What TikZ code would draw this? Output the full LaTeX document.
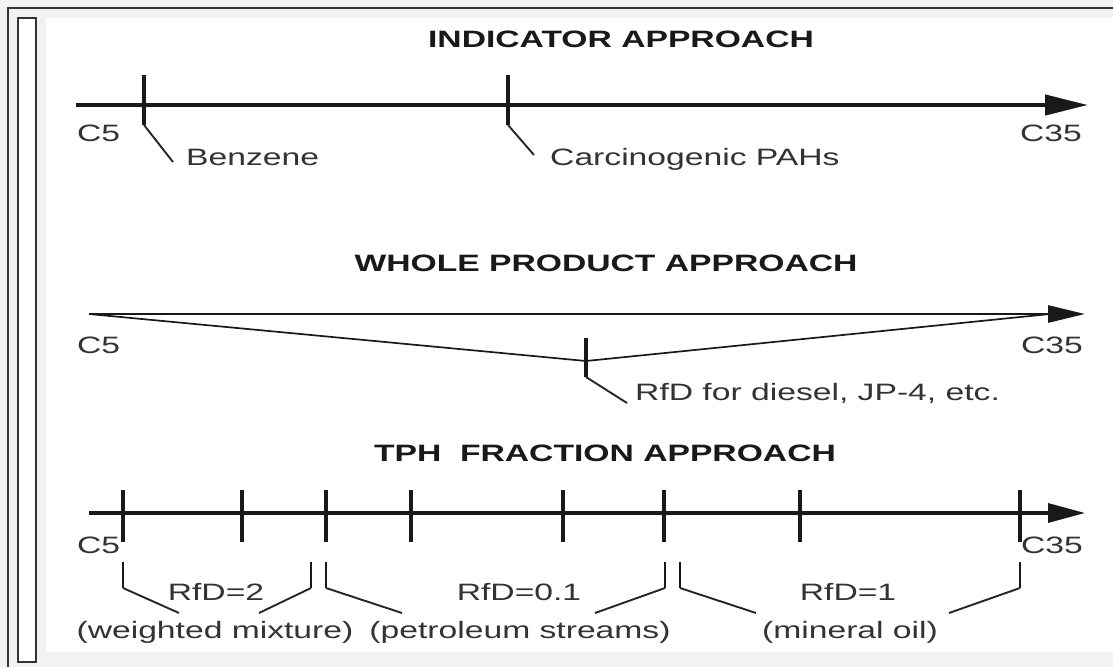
\documentclass[tikz,border=0pt]{standalone}
\usepackage{fontspec}
\setmainfont{Liberation Sans}[FakeStretch=1.42]
\usetikzlibrary{arrows.meta,positioning}

\begin{document}
\begin{tikzpicture}[x=1pt,y=-1pt,
  lbl/.style={inner sep=0pt,text=black!80,font=\fontsize{23.7}{28}\selectfont},
  ttl/.style={inner sep=0pt,text=black!90,font=\fontsize{23.7}{28}\selectfont\bfseries},
  axisline/.style={draw=black!90,line width=#1},
  tickline/.style={draw=black!90,line width=3.2pt},
  leadline/.style={draw=black!85,line width=1.9pt}]

% frame
\useasboundingbox (0,0) rectangle (1113,667);
\fill[black!5] (0,0) rectangle (1113,667);
\fill[white] (46,18) rectangle (1113,652);
\draw[black!80,line width=1.6pt,fill=white] (18,18) rectangle (36,662);
\draw[black!80,line width=1.6pt] (8,667) -- (8,8) -- (1113,8);

% indicator approach
\node[ttl,anchor=base] (indttl) at (621,47) {INDICATOR APPROACH};
\coordinate (ia) at (76,105);
\coordinate (ib) at (1088,105);
\draw[axisline=4.4pt,-{Triangle[length=43pt,width=20pt]}] (ia) -- (ib);
\node[lbl,anchor=base west] (ic5) at (77,141) {C5};
\node[lbl,anchor=base east] (ic35) at (1082,141) {C35};
\draw[tickline] (144,75) coordinate (bz) -- (144,125) coordinate (bz1);
\draw[leadline] (bz1) -- (173,162);
\node[lbl,anchor=base west] (benz) at (186,165) {Benzene};
\draw[tickline] (508,75) coordinate (pah) -- (508,125) coordinate (pah1);
\draw[leadline] (pah1) -- (534,155);
\node[lbl,anchor=base west] (pahs) at (550,165) {Carcinogenic PAHs};

% whole product approach
\node[ttl,anchor=base] (whttl) at (606,271) {WHOLE PRODUCT APPROACH};
\coordinate (wa) at (89,314);
\coordinate (wb) at (1085,314);
\coordinate (wm) at (586,361);
\draw[axisline=2.8pt,-{Triangle[length=37pt,width=17pt]}] (wa) -- (wb);
\draw[black!90,line width=1.7pt,line join=bevel] (wa) -- (wm) -- (1050,314);
\node[lbl,anchor=base west] (wc5) at (77,353) {C5};
\node[lbl,anchor=base east] (wc35) at (1083,353) {C35};
\draw[tickline] (586,338) coordinate (rfd) -- (586,377) coordinate (rfd1);
\draw[leadline] (rfd1) -- (627,403);
\node[lbl,anchor=base west] (diesel) at (635,400) {RfD for diesel, JP-4, etc.};

% tph fraction approach
\node[ttl,anchor=base] (tphttl) at (605,461) {TPH\ \ FRACTION APPROACH};
\coordinate (ta) at (89,513);
\coordinate (tb) at (1085,513);
\draw[axisline=3.2pt,-{Triangle[length=37pt,width=19pt]}] (ta) -- (tb);
\foreach \x [count=\i] in {123,242,326,411,563,664,800,1020}
  \draw[tickline] (\x,490) coordinate (t\i) -- (\x,542);
\foreach \x/\d [count=\i] in {123/56,311/-52,326/76,665/-70,680/76,1020/-71}{
  \draw[tickline,line width=2.8pt] (\x,562) coordinate (b\i) -- (\x,588) coordinate (c\i);
  \draw[leadline] (c\i) -- ++(\d,25);
}
\node[lbl,anchor=base west] (tc5) at (77,553) {C5};
\node[lbl,anchor=base east] (tc35) at (1083,553) {C35};
\node[lbl,anchor=base] (rfda) at (216,600) {RfD=2};
\node[lbl,anchor=base] (rfdb) at (519,600) {RfD=0.1};
\node[lbl,anchor=base] (rfdc) at (848,600) {RfD=1};
\node[lbl,anchor=base] (mixa) at (215,638) {(weighted mixture)};
\node[lbl,anchor=base] (mixb) at (520,638) {(petroleum streams)};
\node[lbl,anchor=base] (mixc) at (850,638) {(mineral oil)};
\end{tikzpicture}
\end{document}
